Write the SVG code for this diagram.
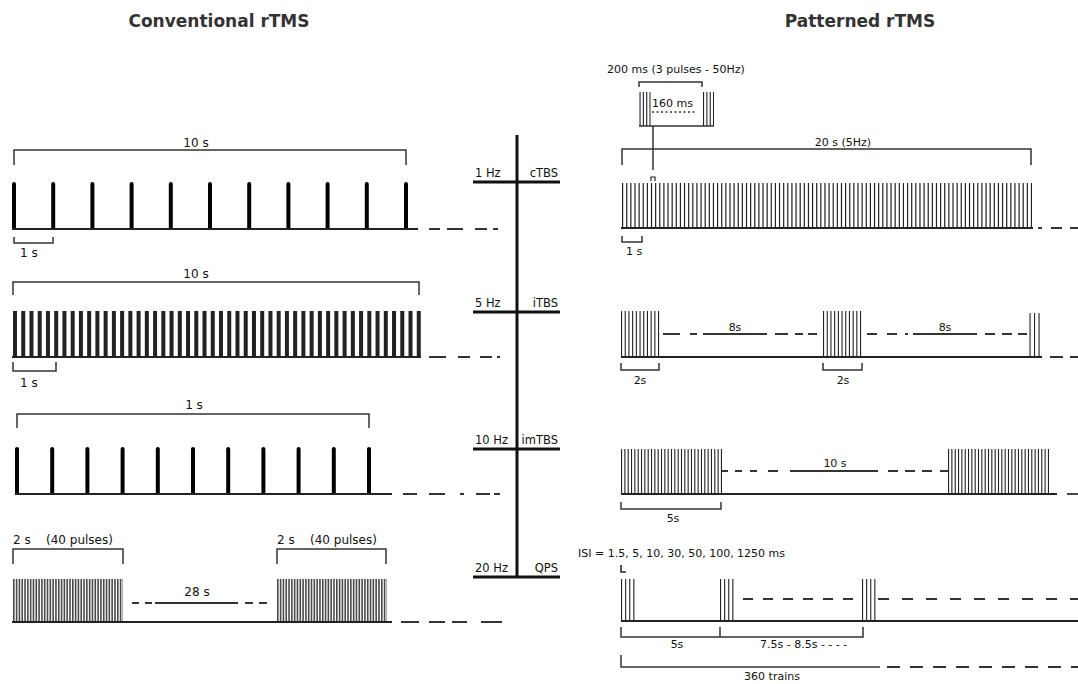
<svg xmlns="http://www.w3.org/2000/svg" width="1078" height="684" viewBox="0 0 1078 684">
<style>
text{font-family:"DejaVu Sans",Verdana,sans-serif;fill:#111}
.title{font-size:17px;font-weight:bold;fill:#333}
.tl{font-size:12px}
.tr{font-size:11px}
.ta{font-size:11.5px}
.mid{text-anchor:middle}
.end{text-anchor:end}
.br{fill:none;stroke:#333;stroke-width:1.5}
.base{fill:none;stroke:#222;stroke-width:1.8}
.dash{fill:none;stroke:#333;stroke-width:1.8}
.ax{fill:none;stroke:#111;stroke-width:3}
.blk{fill:none;stroke:#222}
.blk2{fill:none;stroke:#4a4a4a}
.fat{fill:#000}
</style>
<defs>
<path id="fat" d="M-2,0 V-45 A2,2 0 0 1 2,-45 V0 Z"/>
</defs>

<g id="title-conventional"><text class="title mid" x="219" y="27">Conventional rTMS</text></g>
<g id="title-patterned"><text class="title mid" x="860" y="27">Patterned rTMS</text></g>

<!-- Axis -->
<g id="axis">
<path class="ax" d="M517,135 V578"/>
<path class="ax" d="M473,182 H560 M473,312 H560 M473,449 H560 M473,577 H560"/>
<text class="ta" x="475" y="177">1 Hz</text>
<text class="ta end" x="558" y="177">cTBS</text>
<text class="ta" x="475" y="307">5 Hz</text>
<text class="ta end" x="558" y="307">iTBS</text>
<text class="ta" x="475" y="444">10 Hz</text>
<text class="ta end" x="558" y="444">imTBS</text>
<text class="ta" x="475" y="572">20 Hz</text>
<text class="ta end" x="558" y="572">QPS</text>
</g>

<!-- Conventional 1 Hz -->
<g id="conv-1hz">
<text class="tl mid" x="196" y="147">10 s</text>
<path class="br" d="M14,165 V150 H406 V165"/>
<g class="fat">
<use href="#fat" x="14" y="229"/><use href="#fat" x="53.2" y="229"/><use href="#fat" x="92.4" y="229"/>
<use href="#fat" x="131.6" y="229"/><use href="#fat" x="170.8" y="229"/><use href="#fat" x="210" y="229"/>
<use href="#fat" x="249.2" y="229"/><use href="#fat" x="288.4" y="229"/><use href="#fat" x="327.6" y="229"/>
<use href="#fat" x="366.8" y="229"/><use href="#fat" x="406" y="229"/>
</g>
<path class="base" d="M12,229 H418"/>
<path class="dash" d="M429,229 H440 M447,229 H463 M475,229 H487 M493,229 H498"/>
<path class="br" d="M14,237 V243 H53 V237"/>
<text class="tl" x="20" y="257">1 s</text>
</g>

<!-- Conventional 5 Hz -->
<g id="conv-5hz">
<text class="tl mid" x="196" y="278">10 s</text>
<path class="br" d="M13,295 V282 H419 V295"/>
<line class="blk" x1="13" y1="334" x2="421" y2="334" stroke="#111" stroke-width="46" stroke-dasharray="4 4.24"/>
<path class="base" d="M12,357 H421"/>
<path class="dash" d="M429,357 H446 M458,357 H470 M480,357 H492 M497,357 H500"/>
<path class="br" d="M13,362 V371 H56 V362"/>
<text class="tl" x="20" y="387">1 s</text>
</g>

<!-- Conventional 10 Hz -->
<g id="conv-10hz">
<text class="tl mid" x="194" y="409">1 s</text>
<path class="br" d="M17,428 V414 H369 V428"/>
<g class="fat">
<use href="#fat" x="17" y="494"/><use href="#fat" x="52.2" y="494"/><use href="#fat" x="87.4" y="494"/>
<use href="#fat" x="122.6" y="494"/><use href="#fat" x="157.8" y="494"/><use href="#fat" x="193" y="494"/>
<use href="#fat" x="228.2" y="494"/><use href="#fat" x="263.4" y="494"/><use href="#fat" x="298.6" y="494"/>
<use href="#fat" x="333.8" y="494"/><use href="#fat" x="369" y="494"/>
</g>
<path class="base" d="M15,494 H392"/>
<path class="dash" d="M403,494 H417 M429,494 H445 M460,494 H464 M476,494 H490 M494,494 H500"/>
</g>

<!-- Conventional 20 Hz -->
<g id="conv-20hz">
<text class="tl" x="13" y="544">2 s</text>
<text class="tl" x="46" y="544">(40 pulses)</text>
<text class="tl" x="277" y="544">2 s</text>
<text class="tl" x="310" y="544">(40 pulses)</text>
<path class="br" d="M13,564 V549 H123 V564 M277,564 V549 H386 V564"/>
<line class="blk2" x1="13" y1="600.5" x2="123" y2="600.5" stroke-width="43" stroke-dasharray="1.6 1.21"/>
<line class="blk2" x1="277" y1="600.5" x2="387" y2="600.5" stroke-width="43" stroke-dasharray="1.6 1.21"/>
<path class="base" d="M12,622 H392"/>
<path class="dash" d="M132,603 H139 M145,603 H152 M155,603 H238 M245,603 H253 M259,603 H267"/>
<text class="tl mid" x="197" y="596">28 s</text>
<path class="dash" d="M401,622 H419 M429,622 H445 M452,622 H467 M481,622 H502"/>
</g>

<!-- cTBS -->
<g id="ctbs">
<text class="tr" x="607" y="73">200 ms (3 pulses - 50Hz)</text>
<path class="br" d="M639,87 V82 H702 V87"/>
<line class="blk" x1="639.5" y1="109" x2="650.5" y2="109" stroke-width="34" stroke-dasharray="1.1 2.23"/>
<line class="blk" x1="703" y1="109" x2="714" y2="109" stroke-width="34" stroke-dasharray="1.1 2.23"/>
<path class="br" d="M639,126 H714"/>
<text class="tr" x="652" y="107">160 ms</text>
<path fill="none" stroke="#333" stroke-width="1.3" d="M652,112 H697" stroke-dasharray="2 2.5"/>
<path fill="none" stroke="#222" stroke-width="1.2" d="M651,181 V177 H655 V181"/>
<text class="tr mid" x="843" y="146">20 s (5Hz)</text>
<path class="br" d="M622,165 V149 H1031 V165"/>
<line class="blk" x1="622" y1="205.5" x2="1032" y2="205.5" stroke-width="45" stroke-dasharray="1.2 2.93"/>
<path class="base" d="M621,228 H1033"/>
<path class="dash" d="M1038,228 H1042 M1051,228 H1062 M1070,228 H1078"/>
<path class="br" d="M622,236 V242 H642 V236"/>
<text class="tr" x="626" y="255">1 s</text>
</g>

<!-- iTBS -->
<g id="itbs">
<line class="blk" x1="621" y1="334" x2="660" y2="334" stroke-width="46" stroke-dasharray="1.1 2.6"/>
<line class="blk" x1="823" y1="334" x2="862" y2="334" stroke-width="46" stroke-dasharray="1.1 2.6"/>
<line class="blk" x1="1029.5" y1="335" x2="1040" y2="335" stroke-width="44" stroke-dasharray="1.1 3.4"/>
<path class="base" d="M621,357 H1042"/>
<path class="dash" d="M1050,357 H1063 M1070,357 H1078"/>
<path class="dash" d="M663,334 H680 M690,334 H697 M703,334 H767 M775,334 H788 M795,334 H803 M808,334 H817"/>
<text class="tr mid" x="735" y="331">8s</text>
<path class="dash" d="M867,334 H877 M887,334 H897 M905,334 H908 M913,334 H977 M985,334 H995 M1002,334 H1012 M1018,334 H1027"/>
<text class="tr mid" x="945" y="331">8s</text>
<path class="br" d="M621,363 V370 H659 V363 M823,363 V370 H862 V363"/>
<text class="tr mid" x="640" y="384">2s</text>
<text class="tr mid" x="843" y="384">2s</text>
</g>

<!-- imTBS -->
<g id="imtbs">
<line class="blk" x1="621" y1="471.5" x2="722" y2="471.5" stroke-width="45" stroke-dasharray="1.1 2.23"/>
<line class="blk" x1="948" y1="471.5" x2="1049" y2="471.5" stroke-width="45" stroke-dasharray="1.1 2.23"/>
<path class="base" d="M621,494 H1057"/>
<path class="dash" d="M1067,494 H1078"/>
<path class="dash" d="M722,471 H728 M735,471 H742 M750,471 H757 M768,471 H778 M790,471 H878 M888,471 H898 M905,471 H915 M922,471 H932 M940,471 H948"/>
<text class="tr mid" x="835" y="467">10 s</text>
<path class="br" d="M621,502 V509 H721 V502"/>
<text class="tr mid" x="673" y="522">5s</text>
</g>

<!-- QPS -->
<g id="qps">
<text class="tr" x="578" y="557">ISI = 1.5, 5, 10, 30, 50, 100, 1250 ms</text>
<path fill="none" stroke="#222" stroke-width="1.5" d="M621,565 V572 H626"/>
<line class="blk" x1="621" y1="600" x2="634.5" y2="600" stroke-width="42" stroke-dasharray="1.1 3"/>
<line class="blk" x1="720" y1="600" x2="733.5" y2="600" stroke-width="42" stroke-dasharray="1.1 3"/>
<line class="blk" x1="862" y1="600" x2="875.5" y2="600" stroke-width="42" stroke-dasharray="1.1 3"/>
<path class="base" d="M621,621 H1078"/>
<path class="dash" d="M743,599 H853" stroke-dasharray="10 10"/>
<path class="dash" d="M878,599 H1078" stroke-dasharray="11 13"/>
<path class="br" d="M621,627 V637 H863 V627 M720,637 V627"/>
<text class="tr mid" x="677" y="648">5s</text>
<text class="tr" x="760" y="648">7.5s - 8.5s - - - -</text>
<path class="br" d="M621,655 V667 H880"/>
<path class="dash" d="M887,667 H1078" stroke-dasharray="13 10"/>
<text class="tr mid" x="772" y="680">360 trains</text>
</g>

<g id="connectors">
<path class="br" d="M653,126 V170"/>
</g>
</svg>
